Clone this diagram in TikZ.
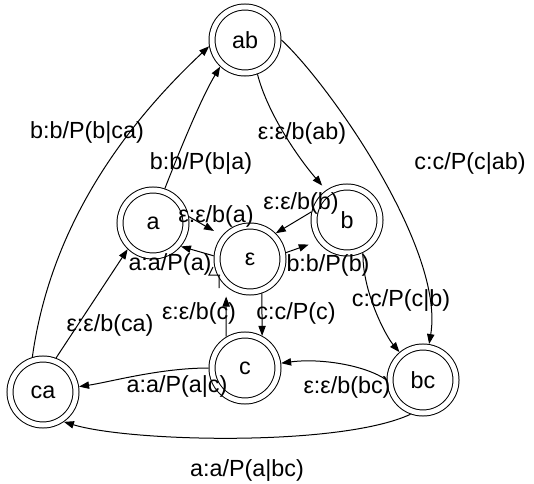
\documentclass[tikz,border=0pt]{standalone}
\usepackage{fontspec}
\setmainfont{Liberation Sans}
\usetikzlibrary{arrows.meta}
\begin{document}
\begin{tikzpicture}[x=0.75pt,y=-0.75pt,
  font=\fontsize{17.5}{20}\selectfont,
  state/.style={circle,draw,double,double distance=3.75pt,line width=0.75pt,minimum size=49.5pt,inner sep=0pt,outer sep=2.6pt},
  conn/.style={line width=0.75pt,-{Triangle[length=7.5pt,width=5.5pt]}},
  lab/.style={inner sep=0pt}]
\useasboundingbox (0,0) rectangle (534,484);
% states
\node[state] (ab)  at (245,40)  {ab};
\node[state] (a)   at (153,223) {a};
\node[state] (eps) at (250,259) {ε};
\node[state] (b)   at (347,220) {b};
\node[state] (c)   at (245,368) {c};
\node[state] (ca)  at (43,392)  {ca};
\node[state] (bc)  at (423,380) {bc};
% connectors
\draw[conn] (ca.107) .. controls (50,230) and (120,130) .. (ab.190);
\draw[conn] (a.71) .. controls (176,160) and (200,100) .. (ab.-133);
\draw[conn,shorten >=4.5pt] (ab.-70) .. controls (268,115) and (300,160) .. (b.125);
\draw[conn] (ab.east) .. controls (330,85) and (445,250) .. (bc);
\draw[conn,shorten >=7pt] (a.10) -- (eps.140);
\draw[conn] (eps.175) -- (a.-40);
\draw[conn] (b.167) -- (eps.45);
\draw[conn,shorten >=7pt] (eps.10) -- (b.216);
\draw[conn] (eps.-71) -- (c.62);
\draw[conn,shorten >=7.5pt] (c.121) -- (eps.-131);
\draw[conn] (b.-64) .. controls (362,290) and (385,335) .. (bc);
\draw[conn] (c) .. controls (160,368) and (110,382) .. (ca);
\draw[conn] (bc.west) .. controls (365,365) and (320,358) .. (c);
\draw[conn] (bc.-110) .. controls (340,447) and (130,442) .. (ca.-55);
\draw[conn] (ca.69) -- (a.-134);
\draw[line width=0.75pt] (213,267) -- (209,275) -- (220,275) (219,275) -- (219,288);
% labels
\node[lab] (l1)  at (87,133)  {b:b/P(b|ca)};
\node[lab] (l2)  at (201,164) {b:b/P(b|a)};
\node[lab] (l3)  at (302,133) {ε:ε/b(ab)};
\node[lab] (l4)  at (470,164) {c:c/P(c|ab)};
\node[lab] (l5)  at (216,216) {ε:ε/b(a)};
\node[lab] (l6)  at (301,203) {ε:ε/b(b)};
\node[lab] (l7)  at (170,264) {a:a/P(a)};
\node[lab] (l8)  at (328,265) {b:b/P(b)};
\node[lab] (l9)  at (199,313) {ε:ε/b(c)};
\node[lab] (l10) at (296,313) {c:c/P(c)};
\node[lab] (l11) at (401,301) {c:c/P(c|b)};
\node[lab] (l12) at (110,325) {ε:ε/b(ca)};
\node[lab] (l13) at (177,387) {a:a/P(a|c)};
\node[lab] (l14) at (347,387) {ε:ε/b(bc)};
\node[lab] (l15) at (247,471) {a:a/P(a|bc)};
\end{tikzpicture}
\end{document}
